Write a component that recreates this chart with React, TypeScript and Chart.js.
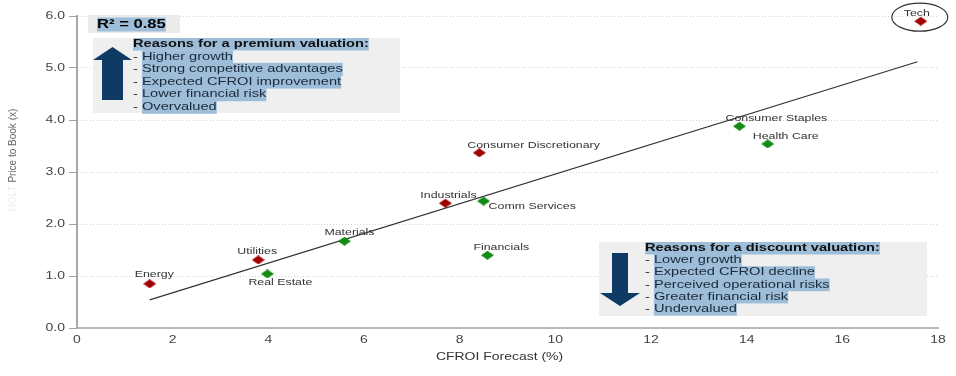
import React, { useEffect, useRef } from "react";
import { Chart, registerables } from "chart.js";

Chart.register(...registerables);

// ---------------- data ----------------
const sectors = [
  "Tech",
  "Consumer Staples",
  "Health Care",
  "Consumer Discretionary",
  "Industrials",
  "Comm Services",
  "Financials",
  "Materials",
  "Utilities",
  "Real Estate",
  "Energy",
];
const cfroiForecast = [17.64, 13.85, 14.44, 8.41, 7.7, 8.5, 8.58, 5.59, 3.79, 3.98, 1.52];
const priceToBook = [5.9, 3.88, 3.54, 3.37, 2.4, 2.44, 1.4, 1.67, 1.31, 1.04, 0.85];
const valuation = [
  "premium",
  "discount",
  "discount",
  "premium",
  "premium",
  "discount",
  "discount",
  "discount",
  "premium",
  "discount",
  "premium",
];
const trendX = [1.52, 17.57];
const trendY = [0.54, 5.12];
const rSquared = 0.85;
const circledSector = "Tech";

const premiumTitle = "Reasons for a premium valuation:";
const premiumReasons = [
  "Higher growth",
  "Strong competitive advantages",
  "Expected CFROI improvement",
  "Lower financial risk",
  "Overvalued",
];
const discountTitle = "Reasons for a discount valuation:";
const discountReasons = [
  "Lower growth",
  "Expected CFROI decline",
  "Perceived operational risks",
  "Greater financial risk",
  "Undervalued",
];
const xTitle = "CFROI Forecast (%)";
const yTitleFaint = "HOLT ";
const yTitleMain = "Price to Book (x)";

// ---------------- styles / layout ----------------
const SX = 1.33; // horizontal text stretch seen in the reference
const FONT = '"Liberation Sans", Arial, sans-serif';
const RED = "#a00000";
const GREEN = "#138a13";
const HILITE = "#9dbdd8";
const NAVY = "#0f3a63";

// label offsets (text left edge / vertical centre relative to the marker)
const labelDx = [-17, -14, -15, -12, -25, 5, -14, -20, -21, -19, -15];
const labelDy = [-8, -8, -7, -7, -8, 5, -8, -9, -8, 9, -9];

const R2_BOX = { x: 88, y: 15, w: 92, h: 18, tx: 97, ty: 24.5 };
const PREMIUM_BOX = {
  x: 93, y: 38, w: 307, h: 75, tx: 133, ty: 44, ls: 12.6,
  arrow: { cx: 112.5, shaftW: 21, headW: 39, tip: 47, headBase: 60, end: 100 },
};
const DISCOUNT_BOX = {
  x: 599, y: 242, w: 328, h: 74, tx: 645, ty: 248, ls: 12.2,
  arrow: { cx: 620, shaftW: 16, headW: 40, tip: 306, headBase: 293, end: 253 },
};

function drawText(
  ctx: CanvasRenderingContext2D,
  text: string,
  x: number,
  y: number,
  font: string,
  color: string,
  align: "left" | "center" | "right" = "left"
) {
  ctx.save();
  ctx.font = font;
  const w = ctx.measureText(text).width * SX;
  let left = x;
  if (align === "center") left = x - w / 2;
  if (align === "right") left = x - w;
  ctx.translate(left, y);
  ctx.scale(SX, 1);
  ctx.textAlign = "left";
  ctx.textBaseline = "middle";
  ctx.fillStyle = color;
  ctx.fillText(text, 0, 0);
  ctx.restore();
  return w;
}

function measure(ctx: CanvasRenderingContext2D, text: string, font: string) {
  ctx.save();
  ctx.font = font;
  const w = ctx.measureText(text).width * SX;
  ctx.restore();
  return w;
}

function makeDiamond(color: string, w: number, h: number) {
  const c = document.createElement("canvas");
  c.width = w;
  c.height = h;
  const g = c.getContext("2d")!;
  g.fillStyle = color;
  g.beginPath();
  g.moveTo(w / 2, 0);
  g.lineTo(w, h / 2);
  g.lineTo(w / 2, h);
  g.lineTo(0, h / 2);
  g.closePath();
  g.fill();
  return c;
}

function drawReasonBox(
  ctx: CanvasRenderingContext2D,
  box: typeof PREMIUM_BOX,
  title: string,
  lines: string[],
  up: boolean
) {
  ctx.save();
  ctx.fillStyle = "#efefef";
  ctx.fillRect(box.x, box.y, box.w, box.h);
  // arrow
  const a = box.arrow;
  ctx.fillStyle = NAVY;
  ctx.beginPath();
  ctx.moveTo(a.cx, a.tip);
  ctx.lineTo(a.cx + a.headW / 2, a.headBase);
  ctx.lineTo(a.cx + a.shaftW / 2, a.headBase);
  ctx.lineTo(a.cx + a.shaftW / 2, a.end);
  ctx.lineTo(a.cx - a.shaftW / 2, a.end);
  ctx.lineTo(a.cx - a.shaftW / 2, a.headBase);
  ctx.lineTo(a.cx - a.headW / 2, a.headBase);
  ctx.closePath();
  ctx.fill();
  const boldF = `bold 11px ${FONT}`;
  const regF = `11px ${FONT}`;
  const tw = measure(ctx, title, boldF);
  ctx.fillStyle = HILITE;
  ctx.fillRect(box.tx, box.ty - 6, tw, 12.5);
  drawText(ctx, title, box.tx, box.ty, boldF, "#111");
  const dash = "- ";
  const dw = measure(ctx, dash, regF);
  lines.forEach((line, i) => {
    const y = box.ty + box.ls * (i + 1);
    const lw = measure(ctx, line, regF);
    ctx.fillStyle = HILITE;
    ctx.fillRect(box.tx + dw, y - box.ls / 2, lw, box.ls + 0.5);
    drawText(ctx, dash, box.tx, y, regF, "#222");
    drawText(ctx, line, box.tx + dw, y, regF, "#1a2a3a");
  });
  ctx.restore();
}

const overlayPlugin = {
  id: "overlay",
  beforeDatasetsDraw(chart: any) {
    const ctx: CanvasRenderingContext2D = chart.ctx;
    // R² box
    ctx.save();
    ctx.fillStyle = "#ebebeb";
    ctx.fillRect(R2_BOX.x, R2_BOX.y, R2_BOX.w, R2_BOX.h);
    const r2 = `R² = ${rSquared.toFixed(2)}`;
    const r2f = `bold 12.5px ${FONT}`;
    const rw = measure(ctx, r2, r2f);
    ctx.fillStyle = HILITE;
    ctx.fillRect(R2_BOX.tx, R2_BOX.ty - 7, rw, 14);
    drawText(ctx, r2, R2_BOX.tx, R2_BOX.ty, r2f, "#000");
    ctx.restore();
    drawReasonBox(ctx, PREMIUM_BOX, premiumTitle, premiumReasons, true);
    drawReasonBox(ctx, DISCOUNT_BOX, discountTitle, discountReasons, false);
  },
  afterDatasetsDraw(chart: any) {
    const ctx: CanvasRenderingContext2D = chart.ctx;
    const xs = chart.scales.x;
    const ys = chart.scales.y;
    const area = chart.chartArea;
    // point labels
    const lf = `9.3px ${FONT}`;
    sectors.forEach((name, i) => {
      const px = xs.getPixelForValue(cfroiForecast[i]);
      const py = ys.getPixelForValue(priceToBook[i]);
      drawText(ctx, name, px + labelDx[i], py + labelDy[i], lf, "#333");
      if (name === circledSector) {
        ctx.save();
        ctx.strokeStyle = "#333";
        ctx.lineWidth = 1.2;
        ctx.beginPath();
        ctx.ellipse(px - 1, py - 4, 28, 14, 0, 0, Math.PI * 2);
        ctx.stroke();
        ctx.restore();
      }
    });
    // tick labels
    const tf = `10.5px ${FONT}`;
    ys.ticks.forEach((t: any) => {
      drawText(ctx, Number(t.value).toFixed(1), 65, ys.getPixelForValue(t.value), tf, "#444", "right");
    });
    xs.ticks.forEach((t: any) => {
      drawText(ctx, String(t.value), xs.getPixelForValue(t.value), 340, tf, "#444", "center");
    });
    // x title
    drawText(ctx, xTitle, (area.left + area.right) / 2 - 8, 357, `10.5px ${FONT}`, "#333", "center");
    // y title (rotated)
    ctx.save();
    ctx.font = `10px ${FONT}`;
    const w1 = ctx.measureText(yTitleFaint).width;
    const w2 = ctx.measureText(yTitleMain).width;
    ctx.translate(13, 160);
    ctx.rotate(-Math.PI / 2);
    ctx.textBaseline = "middle";
    ctx.textAlign = "left";
    const start = -(w1 + w2) / 2;
    ctx.fillStyle = "#eeeeee";
    ctx.fillText(yTitleFaint, start, 0);
    ctx.fillStyle = "#666";
    ctx.fillText(yTitleMain, start + w1, 0);
    ctx.restore();
  },
};

export default function App() {
  const ref = useRef<HTMLCanvasElement | null>(null);
  useEffect(() => {
    if (!ref.current) return;
    const redD = makeDiamond(RED, 13, 9);
    const greenD = makeDiamond(GREEN, 13, 9);
    const premiumPts: { x: number; y: number }[] = [];
    const discountPts: { x: number; y: number }[] = [];
    sectors.forEach((_, i) => {
      const p = { x: cfroiForecast[i], y: priceToBook[i] };
      if (valuation[i] === "premium") premiumPts.push(p);
      else discountPts.push(p);
    });
    const chart = new Chart(ref.current, {
      type: "scatter",
      data: {
        datasets: [
          {
            type: "line",
            label: "trend",
            data: trendX.map((x, i) => ({ x, y: trendY[i] })),
            borderColor: "#333",
            borderWidth: 1.2,
            pointRadius: 0,
            fill: false,
            order: 3,
          } as any,
          {
            label: "premium",
            data: premiumPts,
            pointStyle: redD as any,
            pointRadius: 6,
            backgroundColor: RED,
            order: 1,
          },
          {
            label: "discount",
            data: discountPts,
            pointStyle: greenD as any,
            pointRadius: 6,
            backgroundColor: GREEN,
            order: 2,
          },
        ],
      },
      options: {
        responsive: false,
        animation: false,
        devicePixelRatio: 1,
        layout: { padding: { top: 16, right: 18, left: 0, bottom: 0 } },
        plugins: { legend: { display: false }, tooltip: { enabled: false } },
        events: [],
        scales: {
          x: {
            type: "linear",
            min: 0,
            max: 18,
            ticks: { stepSize: 2, display: false },
            grid: { display: false },
            border: { display: true, color: "#b8b8b8", width: 2 },
            afterFit: (s: any) => {
              s.height = 48;
            },
          },
          y: {
            type: "linear",
            min: 0,
            max: 6,
            ticks: { stepSize: 1, display: false },
            grid: {
              color: "#d4d4d4",
              lineWidth: 1,
              tickColor: "#a0a0a0",
              tickLength: 8,
              drawTicks: true,
            },
            border: { display: true, color: "#a8a8a8", width: 2, dash: [1, 2] } as any,
            afterFit: (s: any) => {
              s.width = 77;
            },
          },
        },
      },
      plugins: [overlayPlugin],
    });
    // dotted gridlines but solid axis border
    (chart.options.scales as any).y.grid.borderDash = [1, 2];
    (chart.options.scales as any).y.border.dash = [1, 2];
    (chart.options.scales as any).y.border.dashOffset = 0;
    chart.update();
    return () => chart.destroy();
  }, []);
  return (
    <div style={{ position: "absolute", left: 0, top: 0, width: 956, height: 376, background: "#fff" }}>
      <canvas ref={ref} width={956} height={376} style={{ width: 956, height: 376 }} />
    </div>
  );
}
